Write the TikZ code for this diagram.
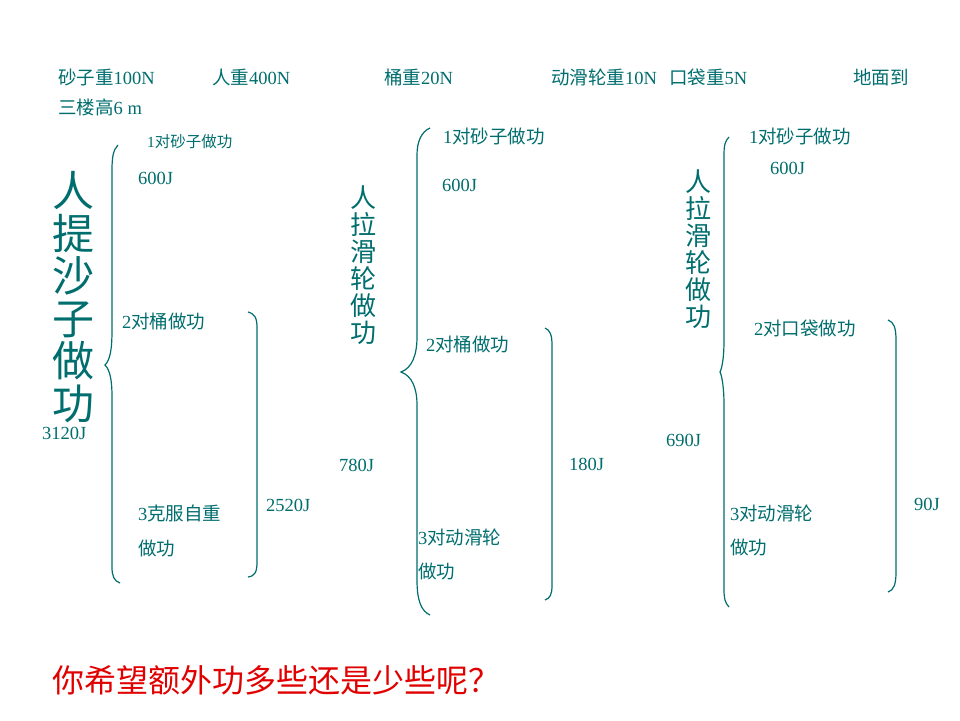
\documentclass[tikz,border=0pt]{standalone}
\usepackage{fontspec}
\setmainfont{Liberation Serif}
\newfontfamily\cjk{Noto Sans CJK SC}
\newcommand{\zhs}[1]{{\cjk #1}}
\usetikzlibrary{positioning}
\definecolor{wteal}{RGB}{0,110,110}
\definecolor{wred}{RGB}{225,0,0}

\begin{document}
\begin{tikzpicture}[x=1pt, y=-1pt,
  every node/.style={inner sep=0pt, text=wteal},
  lbl/.style={anchor=west, font=\fontsize{18.5}{20}\selectfont},
  sml/.style={anchor=west, font=\fontsize{15.5}{18}\selectfont},
  vtitle/.style={align=center, font=\cjk\fontsize{26}{27}\selectfont},
  brc/.style={draw=wteal, line width=1.2pt}]
\useasboundingbox[fill=white] (0,0) rectangle (960,720);
% Given data
\node[lbl] (sandw) at (58,77) {\zhs{砂子重}100N};
\node[lbl] (manw) at (212,77) {\zhs{人重}400N};
\node[lbl] (bucketw) at (384,77) {\zhs{桶重}20N};
\node[lbl] (pulleyw) at (551,77) {\zhs{动滑轮重}10N};
\node[lbl] (bagw) at (669,77) {\zhs{口袋重}5N};
\node[lbl] (heighta) at (853,77) {\zhs{地面到}};
\node[lbl] (heightb) at (58,107) {\zhs{三楼高}6 m};
% Case 1: carrying the sand
\node[align=center, font=\cjk\fontsize{42}{42.5}\selectfont] (ta) at (73,297) {人\\提\\沙\\子\\做\\功};
\node[lbl] (ta sum) at (42,433) {3120J};
\draw[brc] (118,145) .. controls (113,150) and (112,158) .. (112,170) -- (112,330)
  .. controls (112,350) and (110,360) .. (105,365) .. controls (110,370) and (112,380) .. (112,397)
  -- (112,567) .. controls (112,576) and (114,581) .. (120,583);
\node[sml] (a1) at (147,142) {1\zhs{对砂子做功}};
\node[lbl] (a1v) at (138,178) {600J};
\node[lbl] (a2) at (122,321) {2\zhs{对桶做功}};
\node[lbl] (a3) at (138,513) {3\zhs{克服自重}};
\node[lbl] (a3b) at (138,548) {\zhs{做功}};
\draw[brc] (248,312) .. controls (255,314) and (257,318) .. (257,328) -- (257,562)
  .. controls (257,572) and (255,576) .. (248,577);
\node[lbl] (a23v) at (266,505) {2520J};
% Case 2: pulley with bucket
\node[vtitle] (tb) at (363,265) {人\\拉\\滑\\轮\\做\\功};
\node[lbl] (tb sum) at (339,465) {780J};
\draw[brc] (430,128) .. controls (421,132) and (417,142) .. (417,155) -- (417,337)
  .. controls (417,355) and (412,368) .. (401,372) .. controls (412,376) and (417,388) .. (417,405)
  -- (417,580) .. controls (417,600) and (421,611) .. (430,615);
\node[lbl] (b1) at (443,136) {1\zhs{对砂子做功}};
\node[lbl] (b1v) at (442,185) {600J};
\node[lbl] (b2) at (426,344) {2\zhs{对桶做功}};
\node[lbl] (b3) at (418,537) {3\zhs{对动滑轮}};
\node[lbl] (b3b) at (418,571) {\zhs{做功}};
\draw[brc] (545,328) .. controls (550,330) and (552,335) .. (552,345) -- (552,585)
  .. controls (552,595) and (550,598) .. (545,600);
\node[lbl] (b23v) at (569,464) {180J};
% Case 3: pulley with bag
\node[vtitle] (tc) at (698,249) {人\\拉\\滑\\轮\\做\\功};
\node[lbl] (tc sum) at (666,440) {690J};
\draw[brc] (729,137) .. controls (725,141) and (724,146) .. (724,153) -- (724,340)
  .. controls (724,358) and (722,368) .. (720,372) .. controls (722,376) and (724,388) .. (724,405)
  -- (724,590) .. controls (724,598) and (725,603) .. (729,607);
\node[lbl] (c1) at (749,136) {1\zhs{对砂子做功}};
\node[lbl] (c1v) at (770,168) {600J};
\node[lbl] (c2) at (754,328) {2\zhs{对口袋做功}};
\node[lbl] (c3) at (730,513) {3\zhs{对动滑轮}};
\node[lbl] (c3b) at (730,547) {\zhs{做功}};
\draw[brc] (888,320) .. controls (894,322) and (896,328) .. (896,340) -- (896,572)
  .. controls (896,584) and (894,590) .. (888,592);
\node[lbl] (c23v) at (914,504) {90J};
% Question
\node[anchor=west, text=wred, font=\cjk\fontsize{32}{34}\selectfont] (ask) at (52,680) {你希望额外功多些还是少些呢？};
\end{tikzpicture}
\end{document}
